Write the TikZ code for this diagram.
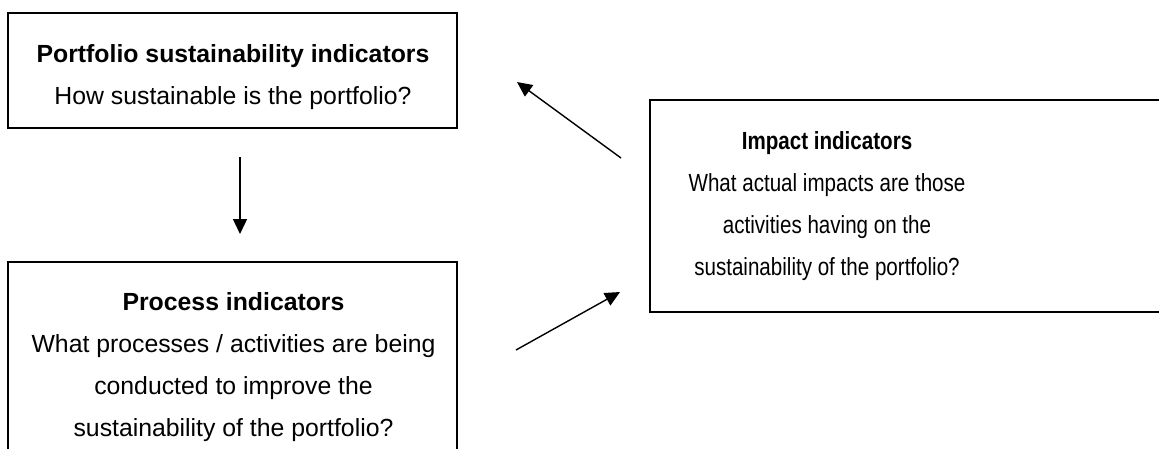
\documentclass[tikz,border=0pt]{standalone}
\usepackage{fontspec}
\setmainfont{Liberation Sans}
\usetikzlibrary{arrows.meta}
\begin{document}
\begin{tikzpicture}[x=1pt,y=-1pt,
  box/.style={draw=black,line width=1.8pt,inner sep=0pt},
  txt/.style={align=center,inner sep=0pt,font=\fontsize{24.8}{42}\selectfont},
  arr/.style={line width=1.4pt,-{Triangle[length=15pt,width=14pt]}}]
\useasboundingbox (0,0) rectangle (1159,448);
\clip (0,0) rectangle (1159,448);
\draw[box] (8,13) rectangle (457,128);
\draw[box] (8,262) rectangle (457,460);
\draw[box] (650,100) rectangle (1175,312);
\node[txt] (t1) at (233,77) {\textbf{Portfolio sustainability indicators}\\How sustainable is the portfolio?};
\node[txt] (t2) at (233.5,367) {\textbf{Process indicators}\\What processes / activities are being\\conducted to improve the\\sustainability of the portfolio?};
\node[txt,xscale=0.83,transform shape] (t3) at (827,206) {\textbf{Impact indicators}\\What actual impacts are those\\activities having on the\\sustainability of the portfolio?};
\coordinate (a1s) at (240,157);
\coordinate (a1e) at (240,234);
\coordinate (a2s) at (621,158);
\coordinate (a2e) at (517,82);
\coordinate (a3s) at (516,350);
\coordinate (a3e) at (620,292);
\draw[arr] (a1s) -- (a1e);
\draw[arr] (a2s) -- (a2e);
\draw[arr] (a3s) -- (a3e);
\end{tikzpicture}
\end{document}
